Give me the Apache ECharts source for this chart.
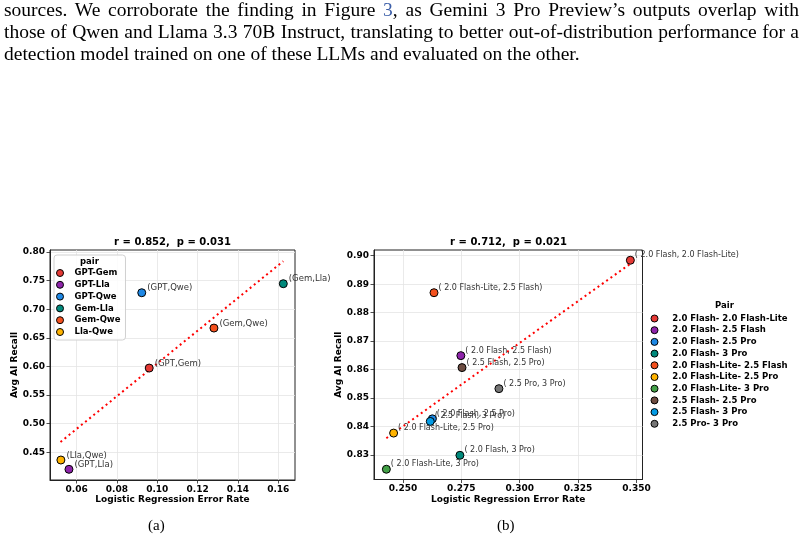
<!DOCTYPE html>
<html>
<head>
<meta charset="utf-8">
<script src="https://cdn.jsdelivr.net/npm/echarts@6/dist/echarts.min.js"></script>
<style>
  body { margin: 0; background: #fff; }
  #wrap { position: relative; width: 804px; height: 545px; overflow: hidden; }
  #chart { position: absolute; left: 0; top: 0; width: 804px; height: 545px; }
  #para { position: absolute; left: 4px; top: -1px; width: 795px; font-family: 'Liberation Serif', serif; font-size: 19.5px; line-height: 22px; color: #000; }
  #para div { text-align: justify; text-align-last: justify; white-space: nowrap; }
  #para div.last { text-align-last: left; }
  #para .ref { color: #3b5ea8; }
</style>
</head>
<body>
<div id="wrap">
  <div id="chart"></div>
  <div id="para">
    <div>sources. We corroborate the finding in Figure <span class="ref">3</span>, as Gemini 3 Pro Preview’s outputs overlap with</div>
    <div>those of Qwen and Llama 3.3 70B Instruct, translating to better out-of-distribution performance for a</div>
    <div class="last">detection model trained on one of these LLMs and evaluated on the other.</div>
  </div>
</div>
<script>
// (a) 模型两两组合
var pairsA = ['GPT-Gem', 'GPT-Lla', 'GPT-Qwe', 'Gem-Lla', 'Gem-Qwe', 'Lla-Qwe'];
var pointLabelsA = ['(GPT,Gem)', '(GPT,Lla)', '(GPT,Qwe)', '(Gem,Lla)', '(Gem,Qwe)', '(Lla,Qwe)'];
var errA = [0.0960, 0.0562, 0.0923, 0.1625, 0.1281, 0.0522];
var recallA = [0.5972, 0.4203, 0.7288, 0.7446, 0.6671, 0.4365];
var colorsA = ['#e53935', '#8e24aa', '#1e88e5', '#00897b', '#f4511e', '#ffb300'];
var fitXA = [0.052, 0.1625];
var fitYA = [0.468, 0.784];
var xTicksA = [0.06, 0.08, 0.10, 0.12, 0.14, 0.16];
var yTicksA = [0.45, 0.50, 0.55, 0.60, 0.65, 0.70, 0.75, 0.80];

// (b) Gemini 版本组合
var pairsB = ['2.0 Flash- 2.0 Flash-Lite', '2.0 Flash- 2.5 Flash', '2.0 Flash- 2.5 Pro', '2.0 Flash- 3 Pro',
  '2.0 Flash-Lite- 2.5 Flash', '2.0 Flash-Lite- 2.5 Pro', '2.0 Flash-Lite- 3 Pro', '2.5 Flash- 2.5 Pro',
  '2.5 Flash- 3 Pro', '2.5 Pro- 3 Pro'];
var pointLabelsB = ['( 2.0 Flash, 2.0 Flash-Lite)', '( 2.0 Flash, 2.5 Flash)', '( 2.0 Flash, 2.5 Pro)', '( 2.0 Flash, 3 Pro)',
  '( 2.0 Flash-Lite, 2.5 Flash)', '( 2.0 Flash-Lite, 2.5 Pro)', '( 2.0 Flash-Lite, 3 Pro)', '( 2.5 Flash, 2.5 Pro)',
  '( 2.5 Flash, 3 Pro)', '( 2.5 Pro, 3 Pro)'];
var errB = [0.3474, 0.2748, 0.2626, 0.2744, 0.2633, 0.2460, 0.2429, 0.2753, 0.2617, 0.2911];
var recallB = [0.8984, 0.8649, 0.8427, 0.8299, 0.8870, 0.8377, 0.8250, 0.8607, 0.8418, 0.8533];
var colorsB = ['#e53935', '#8e24aa', '#1e88e5', '#00897b', '#f4511e', '#ffb300', '#43a047', '#6d4c41', '#039be5', '#757575'];
var fitXB = [0.2429, 0.3471];
var fitYB = [0.8359, 0.8970];
var xTicksB = [0.250, 0.275, 0.300, 0.325, 0.350];
var yTicksB = [0.83, 0.84, 0.85, 0.86, 0.87, 0.88, 0.89, 0.90];

var FONT = 'DejaVu Sans';

var myChart = echarts.init(document.getElementById('chart'), null, { renderer: 'canvas' });

function makeAxis(gridIndex, min, max, ticks, digits, name, isY, nameGap) {
  return {
    type: 'value',
    gridIndex: gridIndex,
    min: min,
    max: max,
    name: name,
    nameLocation: 'middle',
    nameGap: nameGap,
    nameRotate: isY ? 90 : 0,
    nameTextStyle: { fontFamily: FONT, fontWeight: 'bold', fontSize: 9, color: '#000' },
    axisLine: { show: true, lineStyle: { color: '#222', width: 1 } },
    axisTick: { show: true, length: 3.5, lineStyle: { color: '#222', width: 0.8 }, customValues: ticks },
    axisLabel: {
      show: true, margin: 5, customValues: ticks,
      fontFamily: FONT, fontWeight: 'bold', fontSize: 9, color: '#000',
      formatter: function (v) { return v.toFixed(digits); }
    },
    // 背景网格
    splitLine: { show: true, lineStyle: { color: '#e4e4e4', width: 0.8 } }
  };
}

var series = [];
pairsA.forEach(function (p, i) {
  series.push({
    name: p, type: 'scatter', xAxisIndex: 0, yAxisIndex: 0,
    symbol: 'circle', symbolSize: 8, z: 3,
    itemStyle: { color: colorsA[i], borderColor: '#000', borderWidth: 1, opacity: 1 },
    label: {
      show: true, position: 'right', distance: 1, offset: [0, -4.5],
      formatter: pointLabelsA[i], fontFamily: FONT, fontSize: 8.5, color: '#333'
    },
    data: [[errA[i], recallA[i]]]
  });
});
series.push({
  type: 'line', xAxisIndex: 0, yAxisIndex: 0, symbol: 'none', z: 2,
  lineStyle: { color: '#ff0000', width: 2, type: [2, 3.3] },
  data: [[fitXA[0], fitYA[0]], [fitXA[1], fitYA[1]]]
});
pairsB.forEach(function (p, i) {
  series.push({
    name: p, type: 'scatter', xAxisIndex: 1, yAxisIndex: 1,
    symbol: 'circle', symbolSize: 8, z: 3,
    itemStyle: { color: colorsB[i], borderColor: '#000', borderWidth: 1, opacity: 1 },
    label: {
      show: true, position: 'right', distance: 0, offset: [0, -5],
      formatter: pointLabelsB[i], fontFamily: FONT, fontSize: 8, color: '#333'
    },
    data: [[errB[i], recallB[i]]]
  });
});
series.push({
  type: 'line', xAxisIndex: 1, yAxisIndex: 1, symbol: 'none', z: 2,
  lineStyle: { color: '#ff0000', width: 2, type: [2, 3.3] },
  data: [[fitXB[0], fitYB[0]], [fitXB[1], fitYB[1]]]
});

var option = {
  animation: false,
  backgroundColor: 'transparent',
  title: [
    { text: 'r = 0.852,  p = 0.031', left: 172.5, top: 237, textAlign: 'center', padding: 0,
      textStyle: { fontFamily: FONT, fontWeight: 'bold', fontSize: 10, color: '#000' } },
    { text: 'r = 0.712,  p = 0.021', left: 508.5, top: 237, textAlign: 'center', padding: 0,
      textStyle: { fontFamily: FONT, fontWeight: 'bold', fontSize: 10, color: '#000' } }
  ],
  grid: [
    { left: 50, top: 250, width: 245, height: 230, show: true, borderColor: '#222', borderWidth: 1, backgroundColor: 'transparent' },
    { left: 374, top: 250, width: 268.5, height: 229.5, show: true, borderColor: '#222', borderWidth: 1, backgroundColor: 'transparent' }
  ],
  xAxis: [
    makeAxis(0, 0.0468, 0.1683, xTicksA, 2, 'Logistic Regression Error Rate', false, 15.5),
    makeAxis(1, 0.2376, 0.3526, xTicksB, 3, 'Logistic Regression Error Rate', false, 15.5)
  ],
  yAxis: [
    makeAxis(0, 0.4016, 0.8035, yTicksA, 2, 'Avg AI Recall', true, 30),
    makeAxis(1, 0.8214, 0.902, yTicksB, 2, 'Avg AI Recall', true, 29)
  ],
  legend: [
    {
      orient: 'vertical', left: 54, top: 255,
      padding: [13.5, 5, 3.5, 2],
      data: pairsA, icon: 'circle', itemWidth: 19, itemHeight: 7, itemGap: 2.8,
      backgroundColor: 'rgba(255,255,255,0.85)', borderColor: '#d0d0d0', borderWidth: 1, borderRadius: 3,
      itemStyle: { borderColor: '#000', borderWidth: 1 },
      textStyle: { fontFamily: FONT, fontWeight: 'bold', fontSize: 8.5, color: '#000', lineHeight: 7, padding: 0 },
      selectedMode: false
    },
    {
      orient: 'vertical', left: 650.5, top: 314,
      padding: 0,
      data: pairsB, icon: 'circle', itemWidth: 25.5, itemHeight: 7, itemGap: 2.7,
      itemStyle: { borderColor: '#000', borderWidth: 1 },
      textStyle: { fontFamily: FONT, fontWeight: 'bold', fontSize: 8.5, color: '#000', lineHeight: 7, padding: 0 },
      selectedMode: false
    }
  ],
  graphic: [
    { type: 'text', z: 100, left: 80, top: 257, style: { text: 'pair', fontFamily: FONT, fontWeight: 'bold', fontSize: 8.5, fill: '#000' } },
    { type: 'text', z: 100, left: 715, top: 301, style: { text: 'Pair', fontFamily: FONT, fontWeight: 'bold', fontSize: 8.5, fill: '#000' } },
    { type: 'text', z: 100, left: 148, top: 519, style: { text: '(a)', fontFamily: 'Liberation Serif', fontSize: 15, fill: '#000' } },
    { type: 'text', z: 100, left: 497, top: 519, style: { text: '(b)', fontFamily: 'Liberation Serif', fontSize: 15, fill: '#000' } }
  ],
  series: series
};

myChart.setOption(option);
</script>
</body>
</html>
